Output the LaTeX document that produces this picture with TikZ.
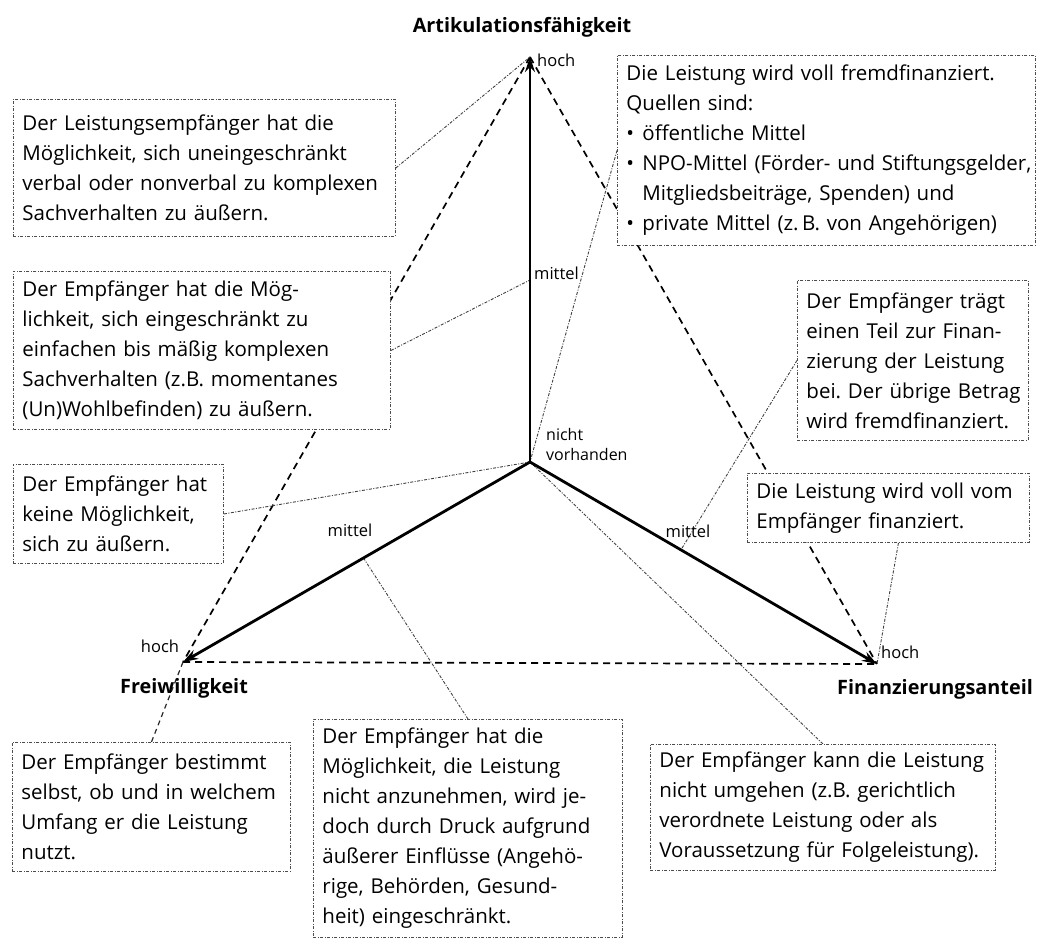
\documentclass[tikz,border=0pt]{standalone}
\usepackage{fontspec}
\setmainfont{Open Sans}
\usetikzlibrary{arrows.meta,calc}
\pgfdeclarelayer{bg}
\pgfsetlayers{bg,main}
\newcommand\zz[1]{\mbox{#1}}
\frenchspacing
\begin{document}
\begin{tikzpicture}[x=1pt,y=-1pt,
  box/.style={draw=black!70, line width=0.9pt,
    dash pattern=on 3pt off 1.5pt on 1pt off 1.5pt,
    fill=white, anchor=north west, align=left,
    inner xsep=9pt, inner ysep=5pt,
    font=\fontsize{20.5}{30}\selectfont},
  con/.style={draw=black!75, line width=0.9pt,
    dash pattern=on 3pt off 1.5pt on 1pt off 1.5pt},
  tri/.style={draw=black, line width=1.7pt, dash pattern=on 7pt off 5pt},
  dln/.style={draw=black!85, line width=1.2pt, dash pattern=on 5pt off 4pt},
  axis/.style={draw=black, line width=2.8pt, -{Stealth[length=15pt,width=10pt]}},
  lbl/.style={inner sep=0pt, font=\fontsize{16.5}{20}\selectfont},
  ttl/.style={inner sep=0pt, font=\fontsize{19.8}{22}\selectfont\bfseries}]
\useasboundingbox (0,0) rectangle (1064,939);

% axis points
\coordinate (O) at (530,462);
\coordinate (T) at (530,57);
\coordinate (L) at (183,662);
\coordinate (R) at (877,664);
\coordinate (Mv) at (530,280);
\coordinate (Ml) at ($(O)!0.48!(L)$);
\coordinate (Mr) at ($(O)!0.435!(R)$);

% boxes
\node[box, text width=364pt, minimum height=137pt] (A) at (13,99)
    {\zz{Der Leistungsempfänger hat die}\\\zz{Möglichkeit, sich uneingeschränkt}\\\zz{verbal oder nonverbal zu komplexen}\\\zz{Sachverhalten zu äußern.}};
\node[box, text width=359pt, minimum height=158pt] (B) at (13,271)
    {\zz{Der Empfänger hat die Mög-}\\\zz{lichkeit, sich eingeschränkt zu}\\\zz{einfachen bis mäßig komplexen}\\\zz{Sachverhalten (z.B. momentanes}\\\zz{(Un)Wohlbefinden) zu äußern.}};
\node[box, text width=192pt, minimum height=99pt] (C) at (13,464)
    {\zz{Der Empfänger hat}\\\zz{keine Möglichkeit,}\\\zz{sich zu äußern.}};
\node[box, text width=260pt, minimum height=129pt] (D) at (12,742)
    {\zz{Der Empfänger bestimmt}\\\zz{selbst, ob und in welchem}\\\zz{Umfang er die Leistung}\\\zz{nutzt.}};
\node[box, text width=291pt, minimum height=218pt] (E) at (313,719)
    {\zz{Der Empfänger hat die}\\\zz{Möglichkeit, die Leistung}\\\zz{nicht anzunehmen, wird je-}\\\zz{doch durch Druck aufgrund}\\\zz{äußerer Einflüsse (Angehö-}\\\zz{rige, Behörden, Gesund-}\\\zz{heit) eingeschränkt.}};
\node[box, text width=327pt, minimum height=126pt] (F) at (650,744)
    {\zz{Der Empfänger kann die Leistung}\\\zz{nicht umgehen (z.B. gerichtlich}\\\zz{verordnete Leistung oder als}\\\zz{Voraussetzung für Folgeleistung).}};
\node[box, text width=400pt, minimum height=190pt] (G) at (617,55)
    {\zz{Die Leistung wird voll fremdfinanziert.}\\\zz{Quellen sind:}\\\zz{\makebox[16pt][l]{•}öffentliche Mittel}\\\zz{\makebox[16pt][l]{•}NPO-Mittel (Förder- und Stiftungsgelder,}\\\zz{\hspace*{16pt}Mitgliedsbeiträge, Spenden) und}\\\zz{\makebox[16pt][l]{•}private Mittel (z.\,B. von Angehörigen)}};
\node[box, text width=213pt, minimum height=160pt] (H) at (797,280)
    {\zz{Der Empfänger trägt}\\\zz{einen Teil zur Finan-}\\\zz{zierung der Leistung}\\\zz{bei. Der übrige Betrag}\\\zz{wird fremdfinanziert.}};
\node[box, text width=264pt, minimum height=69pt] (I) at (747,473)
    {\zz{Die Leistung wird voll vom}\\\zz{Empfänger finanziert.}};

% labels
\node[ttl] (tA) at (522,27) {Artikulationsfähigkeit};
\node[ttl] (tF) at (184,688) {Freiwilligkeit};
\node[ttl] (tR) at (935,689) {Finanzierungsanteil};
\node[lbl, anchor=west] (hT) at (537,60) {hoch};
\node[lbl] (hL) at (160,646) {hoch};
\node[lbl, anchor=west] (hR) at (881,652) {hoch};
\node[lbl, anchor=west] (mV) at (534,273) {mittel};
\node[lbl] (mL) at (350,530) {mittel};
\node[lbl] (mR) at (688,531) {mittel};
\node[lbl, anchor=north west, align=left, font=\fontsize{16}{20}\selectfont] (nv) at (546,428) {nicht\\vorhanden};

\begin{pgfonlayer}{bg}
% dashed triangle
\draw[tri] (T) -- (L);
\draw[tri] (T) -- (R);
\draw[tri] (L) -- (R);
% connectors
\draw[con] (A.east) -- (T);
\draw[con] (B.east) -- (Mv);
\draw[con] (C.east) -- (O);
\draw[dln] (D.north) -- (L);
\draw[con] (E.north) -- (Ml);
\draw[con] (F.north) -- (O);
\draw[con] (G.west) -- (O);
\draw[con] (H.west) -- (Mr);
\draw[con] ([xshift=10pt]I.south) -- (R);
% axes
\draw[axis] (O) -- (T);
\draw[axis] (O) -- (L);
\draw[axis] (O) -- (R);
\end{pgfonlayer}
\end{tikzpicture}
\end{document}
